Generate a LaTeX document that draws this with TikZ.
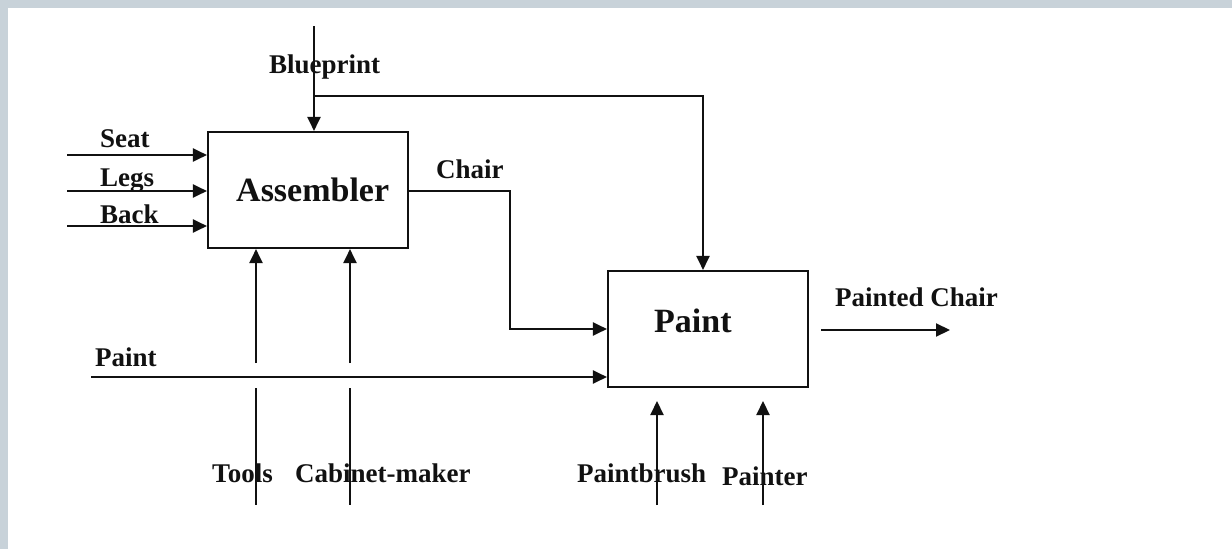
\documentclass[tikz,border=0pt]{standalone}
\usepackage{fontspec}
\setmainfont{Liberation Serif}
\usetikzlibrary{calc,arrows.meta}
\definecolor{frame}{HTML}{C8D2D9}
\definecolor{ink}{HTML}{111111}
\tikzset{
  box/.style={draw=ink, line width=2.1pt, minimum width=200pt, inner sep=0pt},
  flow/.style={draw=ink, line width=2.1pt, -{Triangle[length=14pt,width=13pt]}},
  wire/.style={draw=ink, line width=2.1pt},
  lab/.style={text=ink, font=\bfseries\fontsize{27}{30}\selectfont, inner sep=0pt, anchor=base west},
  title/.style={text=ink, font=\bfseries\fontsize{34}{38}\selectfont, inner sep=0pt, anchor=base west},
}
\begin{document}
\begin{tikzpicture}[x=1pt,y=-1pt]
  \useasboundingbox (0,0) rectangle (1232,549);
  \fill[frame] (0,0) rectangle (1232,549);
  \fill[white] (8,8) rectangle (1232,549);

  % boxes
  \node[box, minimum height=116pt] (asm) at (308,190) {};
  \node[box, minimum height=116pt] (paint) at (708,329) {};
  \node[title] (asmT) at (236,201) {Assembler};
  \node[title] (paintT) at (654,332) {Paint};

  % free ends
  \coordinate (bpTop) at (314,26);
  \coordinate (bpJoin) at (314,96);
  \coordinate (seatS) at (67,155);
  \coordinate (legsS) at (67,191);
  \coordinate (backS) at (67,226);
  \coordinate (paintS) at (91,377);
  \coordinate (chairBend) at (510,191);
  \coordinate (outS) at (821,330);
  \coordinate (outE) at (950,330);
  \coordinate (toolsUp) at (256,363);
  \coordinate (toolsLo) at (256,388);
  \coordinate (toolsS) at (256,505);
  \coordinate (cabUp) at (350,363);
  \coordinate (cabLo) at (350,388);
  \coordinate (cabS) at (350,505);
  \coordinate (brushS) at (657,505);
  \coordinate (brushE) at (657,401);
  \coordinate (painterS) at (763,505);
  \coordinate (painterE) at (763,401);

  % inputs and controls
  \draw[flow] (bpTop) -- (bpTop |- asm.north);
  \draw[flow] (bpJoin) -| ($(paint.north)+(-5,0)$);
  \draw[flow] (seatS) -- (seatS -| asm.west);
  \draw[flow] (legsS) -- (legsS -| asm.west);
  \draw[flow] (backS) -- (backS -| asm.west);
  \draw[flow] (paintS) -- (paintS -| paint.west);
  \draw[flow] (toolsUp) -- (toolsUp |- asm.south);
  \draw[wire] (toolsLo) -- (toolsS);
  \draw[flow] (cabUp) -- (cabUp |- asm.south);
  \draw[wire] (cabLo) -- (cabS);
  \draw[flow] (brushS) -- (brushE);
  \draw[flow] (painterS) -- (painterE);

  % outputs
  \draw[flow] (chairBend -| asm.east) -- (chairBend) |- (paint.west);
  \draw[flow] (outS) -- (outE);

  \node[lab] (bpL) at (269,73) {Blueprint};
  \node[lab] (seatL) at (100,147) {Seat};
  \node[lab] (legsL) at (100,186) {Legs};
  \node[lab] (backL) at (100,223) {Back};
  \node[lab] (chairL) at (436,178) {Chair};
  \node[lab] (paintL) at (95,366) {Paint};
  \node[lab] (outL) at (835,306) {Painted Chair};
  \node[lab] (toolsL) at (212,482) {Tools};
  \node[lab] (cabL) at (295,482) {Cabinet-maker};
  \node[lab] (brushL) at (577,482) {Paintbrush};
  \node[lab] (painterL) at (722,485) {Painter};
\end{tikzpicture}
\end{document}
